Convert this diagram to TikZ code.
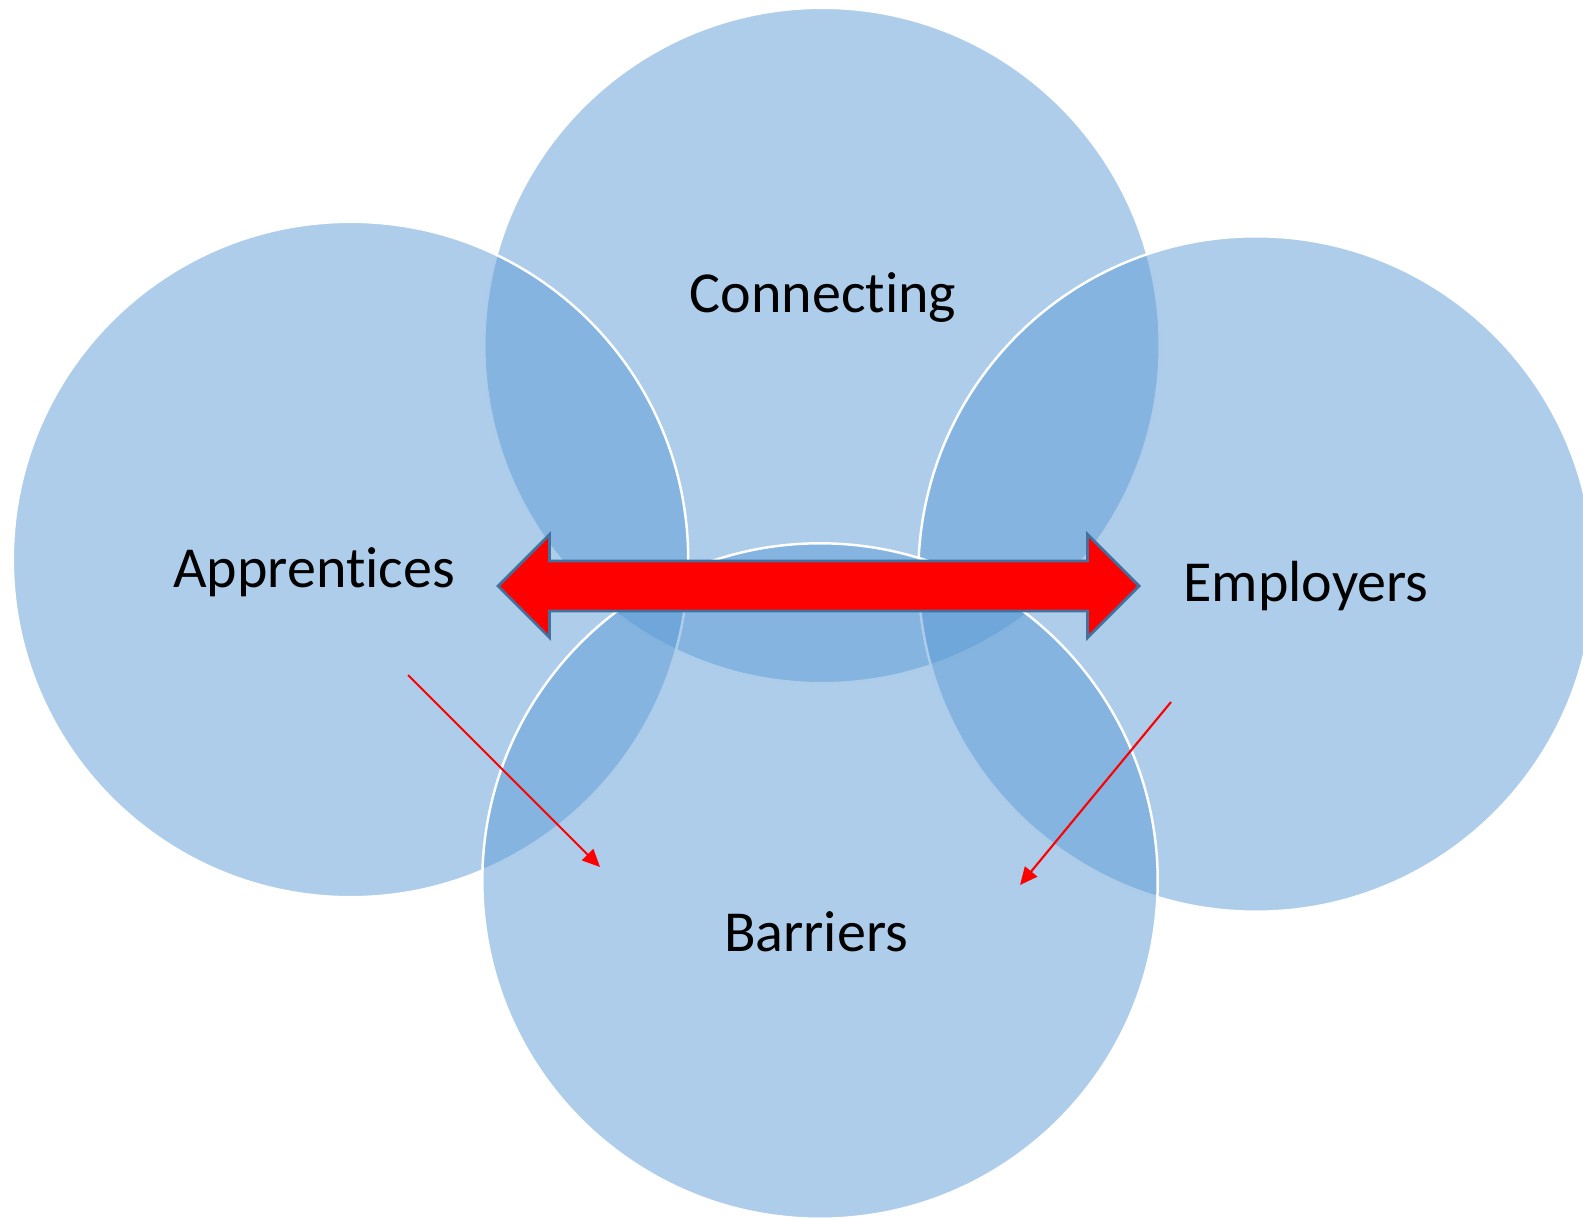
\documentclass[tikz,border=0pt]{standalone}
\usepackage{fontspec}
\setmainfont{Carlito}[Ligatures=NoCommon]
\usepackage{xcolor}
\usepackage{tikz}
\usetikzlibrary{arrows.meta}

\definecolor{cerchioblu}{HTML}{5B9BD5}
\definecolor{bordofreccia}{HTML}{41719C}

\begin{document}
\begin{tikzpicture}[x=0.01cm,y=-0.01cm,>=Stealth]

% Stili per cerchi, etichette e frecce
\tikzset{cerchio/.style={circle, minimum size=6.75cm, inner sep=0pt, outer sep=0pt, fill=cerchioblu, fill opacity=0.5, draw=white, line width=0.7pt}}
\tikzset{etichetta/.style={font=\fontsize{16.5}{19}\selectfont, anchor=base}}
\tikzset{freccina/.style={draw=red, line width=0.6pt, -{Triangle[length=5pt,width=4.5pt]}}}

\useasboundingbox (0,0) rectangle (1583,1219);
\clip (0,0) rectangle (1583,1219);

% --- Cerchi ---
\node[cerchio] (conn) at (822,345.5) {};
\node[cerchio] (appr) at (350.5,559.5) {};
\node[cerchio] (empl) at (1256,574) {};
\node[cerchio] (barr) at (820,881) {};

% Etichette
\node[etichetta] (tconn) at (823,313) {Connecting};
\node[etichetta] (tappr) at (314,587) {Apprentices};
\node[etichetta] (templ) at (1306,601) {Employers};
\node[etichetta] (tbarr) at (816,951.5) {Barriers};

% --- Freccia doppia ---
\fill[red, draw=bordofreccia, line width=0.8pt, line join=miter]
  (498,586) -- (549.5,534.5) -- (549.5,561) -- (1087.5,561) -- (1087.5,534.5)
  -- (1139,586) -- (1087.5,637.5) -- (1087.5,611) -- (549.5,611)
  -- (549.5,637.5) -- cycle;

% Frecce sottili verso Barriers
\coordinate (da) at (408,675);
\coordinate (aa) at (600,867);
\coordinate (de) at (1171,702);
\coordinate (ae) at (1020,885);
\draw[freccina] (da) -- (aa);
\draw[freccina] (de) -- (ae);
\end{tikzpicture}
\end{document}
